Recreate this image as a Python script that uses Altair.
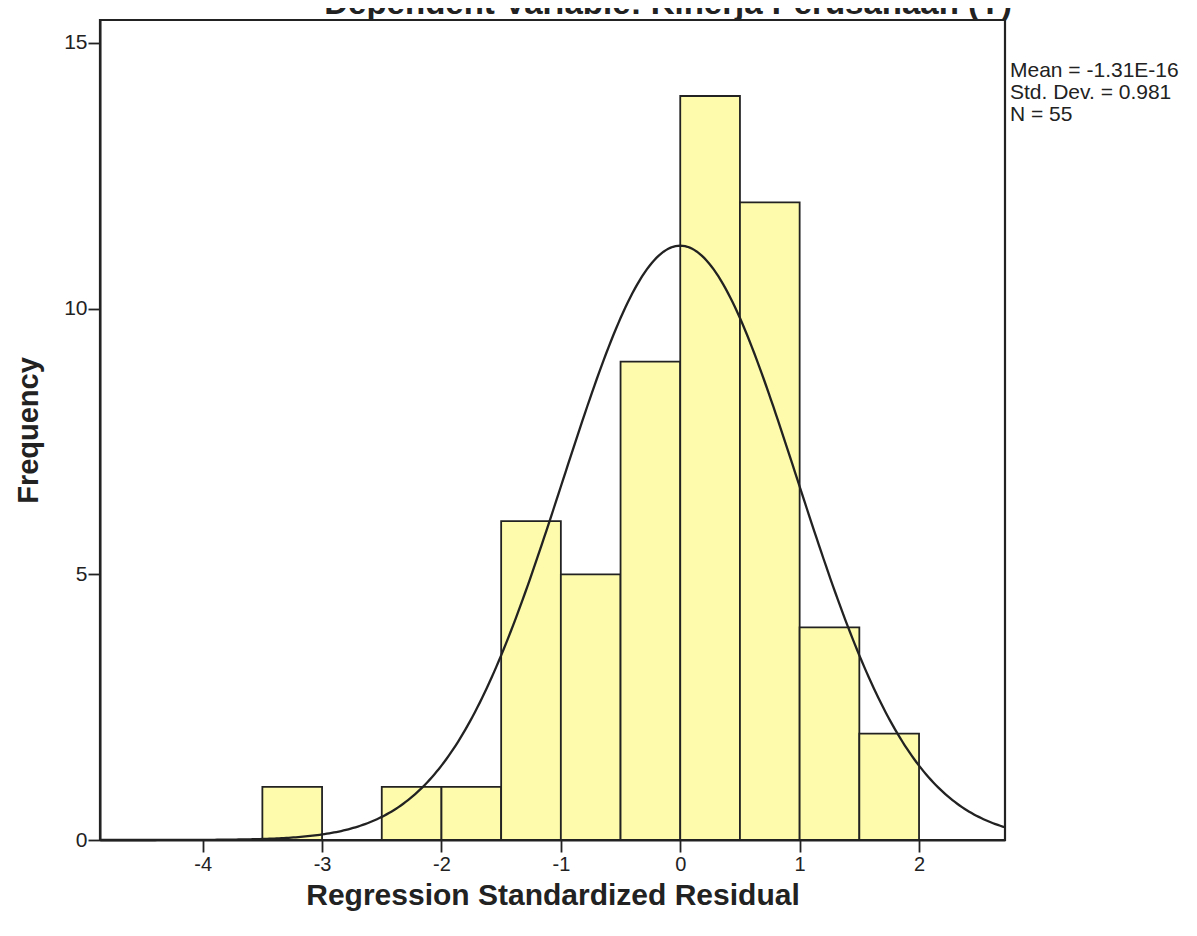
import altair as alt
import pandas as pd

# Histogram data (bin edges and frequencies)
bin_start = [-3.5, -2.5, -2.0, -1.5, -1.0, -0.5, 0.0, 0.5, 1.0, 1.5]
bin_end = [-3.0, -2.0, -1.5, -1.0, -0.5, 0.0, 0.5, 1.0, 1.5, 2.0]
frequency = [1, 1, 1, 6, 5, 9, 14, 12, 4, 2]

# Summary statistics shown on the chart
mean_val = -1.31e-16
std_val = 0.981
n_val = 55
bin_width = 0.5

x_ticks = [-4, -3, -2, -1, 0, 1, 2]
y_ticks = [0, 5, 10, 15]
x_domain = [-4.86, 2.72]
y_domain = [0, 15.43]

stats_lines = ["Mean = -1.31E-16", "Std. Dev. = 0.981", "N = 55"]
title_text = "Dependent Variable: Kinerja Perusahaan (Y)"

W, H = 905, 820
FONT = "Liberation Sans"
INK = "#222222"

hist_df = pd.DataFrame({"start": bin_start, "end": bin_end, "freq": frequency})

x_scale = alt.Scale(domain=x_domain, nice=False, zero=False)
y_scale = alt.Scale(domain=y_domain, nice=False)

x_axis = alt.Axis(
    values=x_ticks, title="Regression Standardized Residual", grid=False,
    labelExpr="toString(datum.value)",
    labelFontSize=20, labelColor=INK, tickColor=INK, tickSize=12,
    tickWidth=1.8, domainColor=INK, domainWidth=2, labelPadding=2,
    titleFontSize=30, titleFontWeight="bold", titleColor=INK,
    titlePadding=6, labelFont=FONT, titleFont=FONT,
)
y_axis = alt.Axis(
    values=y_ticks, title="Frequency", grid=False,
    labelFontSize=21, labelColor=INK, tickColor=INK, tickSize=12,
    tickWidth=1.8, domainColor=INK, domainWidth=2, labelPadding=1,
    titleFontSize=29, titleFontWeight="bold", titleColor=INK,
    titlePadding=20, labelFont=FONT, titleFont=FONT,
)

bars = alt.Chart(hist_df).mark_rect(
    color="#FEFCAC", stroke=INK, strokeWidth=1.8
).encode(
    x=alt.X("start:Q", scale=x_scale, axis=x_axis),
    x2="end:Q",
    y=alt.Y("freq:Q", scale=y_scale, axis=y_axis),
)

curve = alt.Chart(alt.sequence(x_domain[0], x_domain[1] + 0.01, 0.02, as_="x")).transform_calculate(
    y=f"{n_val} * {bin_width} / ({std_val} * sqrt(2 * PI)) * exp(-0.5 * pow((datum.x - ({mean_val})) / {std_val}, 2))"
).mark_line(color=INK, strokeWidth=2.3).encode(
    x=alt.X("x:Q", scale=x_scale),
    y=alt.Y("y:Q", scale=y_scale),
)

stats = alt.Chart(pd.DataFrame({"t": ["\n".join(stats_lines)]})).mark_text(
    align="left", baseline="top", fontSize=21, lineHeight=22, lineBreak="\n",
    font=FONT, color=INK
).encode(text="t:N", x=alt.value(W + 5), y=alt.value(40))

title = alt.Chart(pd.DataFrame({"t": [title_text]})).mark_text(
    align="right", baseline="alphabetic", fontSize=33, fontWeight="bold",
    font=FONT, color=INK
).encode(text="t:N", x=alt.value(W + 7), y=alt.value(-6))

chart = alt.layer(bars, curve, stats, title).properties(
    width=W, height=H,
    background="white",
    autosize=alt.AutoSizeParams(type="none"),
    padding={"left": 92, "top": 12, "right": 184, "bottom": 80},
).configure_view(stroke=INK, strokeWidth=2.2)

chart.save("out.html", embed_options={"renderer": "svg", "actions": False})
